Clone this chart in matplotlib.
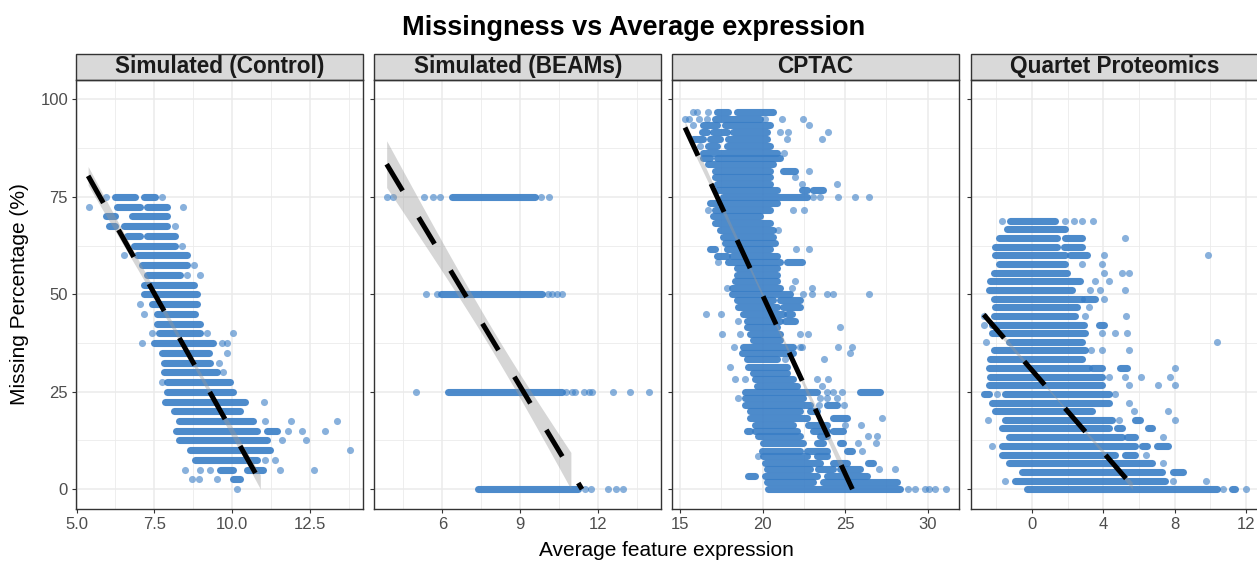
import numpy as np
import matplotlib
matplotlib.use("Agg")
import matplotlib.pyplot as plt
from matplotlib.patches import Rectangle

plt.rcParams['font.family'] = ['Liberation Sans', 'DejaVu Sans']

# ---------------------------------------------------------------------------
# Data: missing percentage (y) against average feature expression (x).
# Dense stretches of overlapping features are stored as runs (y, x_start, x_end);
# isolated features are stored per missingness level as (y, [x, ...]).
# ---------------------------------------------------------------------------
panel_titles = ["Simulated (Control)", "Simulated (BEAMs)", "CPTAC", "Quartet Proteomics"]

ctrl_runs = [
    (75, 6.25, 6.89), (75, 7.16, 7.53),
    (72.5, 6.30, 7.05), (72.5, 7.26, 7.91),
    (70, 5.93, 6.25), (70, 6.78, 7.91),
    (67.5, 6.04, 6.25), (67.5, 6.52, 7.91),
    (65, 6.62, 7.05), (65, 7.26, 8.17),
    (62.5, 6.84, 8.17),
    (60, 6.94, 8.55),
    (57.5, 7.10, 8.55),
    (55, 7.26, 8.33),
    (52.5, 7.16, 8.76),
    (50, 7.16, 8.87),
    (47.5, 7.43, 8.87),
    (45, 7.59, 8.81),
    (42.5, 7.59, 8.97),
    (40, 7.64, 8.97),
    (37.5, 7.48, 9.40),
    (35, 7.75, 9.27),
    (32.5, 7.80, 9.29),
    (30, 7.80, 9.51),
    (27.5, 7.91, 9.94),
    (25, 7.91, 10.04),
    (22.5, 7.85, 10.42),
    (20, 8.12, 10.26),
    (17.5, 8.28, 10.68),
    (15, 8.21, 10.79), (15, 11.11, 11.43),
    (12.5, 8.28, 11.11),
    (10, 8.65, 11.22),
    (7.5, 8.81, 10.79),
    (5, 9.62, 10.04), (5, 10.47, 11.00),
    (2.5, 10.04, 10.26),
]
ctrl_points = [
    (75, [5.93, 7.75]),
    (72.5, [5.40, 8.42]),
    (67.5, [8.17]),
    (62.5, [8.39]),
    (60, [6.52]),
    (57.5, [8.76]),
    (55, [8.55, 8.97]),
    (47.5, [7.03]),
    (45, [7.18]),
    (40, [7.43, 9.19, 10.04]),
    (37.5, [7.10, 9.67, 9.83]),
    (35, [9.83]),
    (32.5, [9.59]),
    (30, [9.72]),
    (27.5, [7.75]),
    (22.5, [11.04]),
    (17.5, [11.06, 11.91, 13.38]),
    (15, [11.81, 12.26, 12.98]),
    (12.5, [11.59, 12.39]),
    (10, [13.78]),
    (7.5, [11.06, 11.38]),
    (5, [8.49, 8.97, 9.29, 11.54, 12.64]),
    (2.5, [8.71, 8.95, 9.51]),
    (0, [10.15]),
]

beams_runs = [
    (75, 6.36, 9.56),
    (50, 5.95, 9.82),
    (25, 6.23, 10.59),
    (0, 7.36, 11.23),
]
beams_points = [
    (75, [3.86, 4.12, 5.31, 5.65, 5.91, 9.80, 10.12]),
    (50, [5.37, 5.81, 10.05, 10.23, 10.40, 10.59]),
    (25, [4.98, 10.75, 10.98, 11.10, 11.46, 11.64, 11.77, 12.55, 13.22, 13.95]),
    (0, [11.49, 11.72, 12.38, 12.66, 12.96]),
]

cptac_runs = [
    (96.8, 17.22, 17.93), (96.8, 18.43, 20.65),
    (95.0, 17.12, 19.84),
    (93.4, 16.41, 17.22), (93.4, 17.72, 20.45),
    (91.7, 16.31, 16.61), (91.7, 17.02, 17.82), (91.7, 18.23, 20.25),
    (89.8, 15.81, 16.41), (89.8, 16.82, 17.42), (89.8, 17.93, 20.25),
    (88.0, 16.72, 17.22), (88.0, 17.82, 20.45),
    (86.2, 16.41, 20.85),
    (84.9, 16.41, 16.82), (84.9, 17.22, 21.05),
    (83.4, 16.72, 20.65),
    (81.6, 17.12, 20.45), (81.6, 21.26, 21.96),
    (80.0, 17.12, 20.45),
    (78.3, 17.22, 20.45),
    (76.8, 17.22, 20.85), (76.8, 22.36, 22.67), (76.8, 23.07, 23.68),
    (75.1, 17.62, 22.67),
    (73.4, 16.82, 17.22), (73.4, 17.42, 20.85),
    (71.7, 17.12, 20.45),
    (70.2, 17.02, 19.84),
    (68.3, 17.12, 20.45),
    (66.5, 17.42, 20.65),
    (64.8, 17.62, 20.65),
    (63.3, 17.72, 20.75),
    (61.6, 16.82, 17.12), (61.6, 17.82, 20.45),
    (59.9, 17.22, 17.82), (59.9, 18.13, 20.85),
    (58.3, 17.93, 21.05), (58.3, 21.46, 22.36),
    (56.7, 18.43, 20.85),
    (55.0, 18.43, 20.85),
    (53.3, 18.33, 20.85),
    (51.6, 18.13, 21.05),
    (50.1, 18.13, 21.66),
    (48.5, 18.43, 20.65), (48.5, 21.05, 22.26),
    (46.7, 18.53, 20.85), (46.7, 21.26, 22.26),
    (45.0, 18.83, 21.26), (45.0, 21.46, 21.76),
    (43.1, 19.04, 21.05), (43.1, 21.36, 21.96),
    (41.5, 19.04, 20.85),
    (39.9, 19.24, 21.05),
    (38.4, 19.44, 21.05),
    (36.5, 18.83, 21.86),
    (35.0, 18.73, 21.86),
    (33.3, 19.04, 20.85),
    (31.4, 19.14, 21.46),
    (29.9, 19.44, 21.46),
    (28.4, 19.54, 21.86),
    (26.6, 19.64, 22.06),
    (24.9, 18.93, 23.27), (24.9, 25.90, 27.11),
    (23.5, 18.93, 22.47),
    (21.6, 18.93, 22.87), (21.6, 23.88, 24.48),
    (20.0, 19.24, 22.26), (20.0, 22.87, 23.27),
    (18.2, 19.24, 22.67), (18.2, 24.28, 25.09),
    (16.6, 19.54, 21.86), (16.6, 22.77, 23.88),
    (14.9, 19.04, 19.24), (14.9, 19.54, 22.06), (14.9, 23.07, 23.88), (14.9, 24.28, 24.89),
    (13.6, 19.74, 22.26), (13.6, 23.47, 23.88),
    (11.9, 20.04, 22.47), (11.9, 23.27, 23.68), (11.9, 24.69, 24.89),
    (9.8, 19.94, 22.26), (9.8, 22.67, 23.88), (9.8, 25.09, 25.39),
    (8.4, 20.04, 22.67), (8.4, 23.27, 23.88),
    (6.8, 20.15, 23.47), (6.8, 24.28, 25.09), (6.8, 26.40, 26.70),
    (5.1, 20.25, 22.87), (5.1, 23.37, 24.28), (5.1, 24.69, 25.90),
    (3.3, 19.14, 19.54), (3.3, 20.15, 23.27), (3.3, 23.88, 26.30),
    (1.9, 20.25, 23.07), (1.9, 23.68, 28.12),
    (0, 20.35, 28.32),
]
cptac_points = [
    (96.8, [15.81, 16.05, 16.72]),
    (95.0, [15.30, 15.56, 16.17, 16.61, 20.15, 21.15, 22.43]),
    (93.4, [15.81, 22.83]),
    (91.7, [21.05, 21.56, 23.98]),
    (89.8, [21.46, 23.62]),
    (88.0, [16.21]),
    (86.2, [21.30]),
    (81.6, [22.81]),
    (80.0, [21.96]),
    (78.3, [22.36, 24.48]),
    (75.1, [23.07, 23.47, 24.58, 25.59, 26.46]),
    (71.7, [16.72, 21.86, 22.51]),
    (66.5, [20.95]),
    (61.6, [22.02, 22.83]),
    (58.3, [17.32]),
    (53.3, [21.96]),
    (51.6, [17.82, 21.76, 22.97]),
    (50.1, [22.47, 22.97, 23.88, 24.28, 26.46]),
    (45.0, [16.57, 17.48]),
    (43.1, [18.53]),
    (41.5, [24.69]),
    (39.9, [17.52, 18.63, 22.26, 22.77]),
    (36.5, [18.27, 22.26, 22.36, 24.58, 25.39]),
    (35.0, [25.29]),
    (33.3, [21.36, 23.74]),
    (31.4, [18.03]),
    (28.4, [18.33, 18.93, 23.27, 23.98]),
    (26.6, [23.58]),
    (24.9, [23.88, 24.28, 24.79]),
    (23.5, [18.49, 23.47, 23.88, 24.48]),
    (21.6, [23.43, 24.93]),
    (18.2, [27.21]),
    (16.6, [24.99, 25.94]),
    (13.6, [26.40, 26.95]),
    (11.9, [25.80, 26.90]),
    (9.8, [26.00]),
    (8.4, [19.74]),
    (5.1, [27.05, 28.01]),
    (0, [28.82, 29.23, 29.83, 30.09, 30.44, 31.14]),
]

quartet_runs = [
    (68.9, -1.21, 1.31),
    (66.7, -1.40, 1.87),
    (64.4, -1.87, 1.40), (64.4, 1.87, 2.80),
    (62.2, -2.05, 1.40), (62.2, 1.77, 2.80),
    (60.0, -2.05, 1.87), (60.0, 2.15, 3.08),
    (57.8, -1.87, 1.87),
    (55.6, -2.15, 1.96),
    (53.3, -2.33, 2.71),
    (51.1, -2.43, 2.24),
    (48.9, -2.15, 2.80), (48.9, 2.90, 3.55),
    (46.7, -2.05, 2.52),
    (44.4, -2.15, 2.43),
    (42.2, -2.24, 2.89), (42.2, 3.73, 4.01),
    (40.0, -2.24, 2.99),
    (37.8, -1.31, 2.80),
    (35.6, -2.15, 2.99),
    (33.3, -2.33, 2.80),
    (31.1, -2.43, 3.17), (31.1, 3.36, 3.92), (31.1, 4.95, 5.32),
    (28.9, -2.33, 3.92),
    (26.7, -2.43, 3.92),
    (24.4, -2.71, -2.43), (24.4, -1.49, 4.29),
    (22.2, -2.24, 4.29),
    (20.0, -2.05, 3.36),
    (17.8, -1.49, 4.48), (17.8, 5.79, 6.07),
    (15.6, -1.68, 4.29), (15.6, 4.76, 5.04), (15.6, 6.53, 6.72),
    (13.3, -1.31, 5.04), (13.3, 5.32, 5.79),
    (11.1, -1.68, 5.79), (11.1, 6.16, 6.44), (11.1, 7.00, 7.65),
    (8.9, -1.68, 4.67), (8.9, 5.23, 5.79),
    (6.7, -1.31, 6.72),
    (4.4, -0.56, 7.28), (4.4, 7.93, 8.49),
    (2.2, -0.93, 7.47),
    (0.0, -0.28, 10.36), (0.0, 11.20, 11.38),
]
quartet_points = [
    (68.9, [-1.68, 1.87, 2.33, 2.80, 3.40]),
    (64.4, [5.23]),
    (60.0, [4.01, 9.84]),
    (57.8, [2.80, 3.92]),
    (55.6, [4.05, 5.04, 5.41]),
    (53.3, [3.55, 4.33]),
    (51.1, [3.27, 3.83, 5.23]),
    (48.9, [4.01]),
    (46.7, [3.17]),
    (44.4, [-2.71, 2.99, 5.26]),
    (42.2, [-2.71]),
    (40.0, [3.92, 4.63, 5.32]),
    (37.8, [-2.58, 10.36]),
    (35.6, [3.32, 3.92, 5.41]),
    (31.1, [7.99]),
    (28.9, [4.33, 5.23, 6.12, 7.75]),
    (26.7, [5.41, 7.06, 7.99]),
    (24.4, [-1.96, 4.67]),
    (22.2, [5.41]),
    (20.0, [5.69, 7.65]),
    (17.8, [-2.46, 4.85, 7.99]),
    (13.3, [7.32]),
    (11.1, [-2.24]),
    (8.9, [6.38]),
    (6.7, [7.32]),
    (2.2, [-1.53, 7.93, 9.74]),
    (0.0, [10.73, 11.98]),
]

# Linear fits: (x_start, y_start), (x_end, y_end) and confidence band shape
# (x of narrowest point, half-width there, half-width at x_start).
fit_lines = [
    ((5.37, 80.4), (11.04, 0.0), (8.6, 0.8, 2.4)),
    ((3.86, 83.4), (11.37, 0.0), (8.0, 2.8, 6.0)),
    ((15.30, 92.8), (25.44, 0.0), (20.3, 0.5, 1.6)),
    ((-2.71, 44.8), (5.79, 0.0), (1.5, 0.25, 0.9)),
]

x_limits = [(4.98, 14.20), (3.385, 14.42), (14.53, 31.9), (-3.44, 12.71)]
x_major = [[5, 7.5, 10, 12.5], [6, 9, 12], [15, 20, 25, 30], [0, 4, 8, 12]]
x_major_labels = [["5.0", "7.5", "10.0", "12.5"], ["6", "9", "12"],
                  ["15", "20", "25", "30"], ["0", "4", "8", "12"]]
x_minor = [[6.25, 8.75, 11.25, 13.75], [4.5, 7.5, 10.5, 13.5],
           [17.5, 22.5, 27.5], [-2, 2, 6, 10]]
y_major = [0, 25, 50, 75, 100]
y_minor = [12.5, 37.5, 62.5, 87.5]

panels = [
    (ctrl_runs, ctrl_points),
    (beams_runs, beams_points),
    (cptac_runs, cptac_points),
    (quartet_runs, quartet_points),
]

# ---------------------------------------------------------------------------
W, H = 1257, 563
fig = plt.figure(figsize=(W / 100, H / 100), dpi=100)

POINT = '#3A7EC6'
FRAME = '#333333'
GRID = '#EBEBEB'
TICKTXT = '#4D4D4D'
MARKER_D = 5.1            # marker diameter in points
panel_px = [(76, 362.7), (374.3, 661.3), (672.3, 959.0), (970.7, 1258.7)]
top_px, bottom_px = 80.0, 508.7
strip_px = 26.0


def fig_box(x0, x1):
    return [x0 / W, 1 - bottom_px / H, (x1 - x0) / W, (bottom_px - top_px) / H]


for i, ((runs, pts), (xl, xr)) in enumerate(zip(panels, panel_px)):
    ax = fig.add_axes(fig_box(xl, xr))
    ax.set_xlim(*x_limits[i])
    ax.set_ylim(-5, 105)

    # grid
    for v in x_minor[i]:
        ax.axvline(v, color=GRID, lw=0.6, zorder=0)
    for v in y_minor:
        ax.axhline(v, color=GRID, lw=0.6, zorder=0)
    for v in x_major[i]:
        ax.axvline(v, color=GRID, lw=1.1, zorder=0)
    for v in y_major:
        ax.axhline(v, color=GRID, lw=1.1, zorder=0)

    # features
    for y, a, b in runs:
        ax.plot([a, b], [y, y], color=POINT, lw=MARKER_D, alpha=0.9,
                solid_capstyle='round', zorder=2)
    px = [x for y, xs in pts for x in xs]
    py = [y for y, xs in pts for x in xs]
    ax.scatter(px, py, s=MARKER_D ** 2, color=POINT, alpha=0.6,
               linewidths=0, zorder=2)

    # linear fit with confidence band
    (x0, y0), (x1, y1), (xc, hw_c, hw_0) = fit_lines[i]
    xs = np.linspace(x0, x1, 300)
    fit = y0 + (y1 - y0) * (xs - x0) / (x1 - x0)
    k2 = (hw_0 ** 2 - hw_c ** 2) / (x0 - xc) ** 2
    hw = np.sqrt(hw_c ** 2 + k2 * (xs - xc) ** 2)
    lo, hi = fit - hw, fit + hw
    keep = (lo >= 0) & (hi <= 100)
    ax.fill_between(xs[keep], lo[keep], hi[keep], color='#999999',
                    alpha=0.4, lw=0, zorder=3)
    ax.plot([x0, x1], [y0, y1], color='black', lw=3.6,
            linestyle=(0, (6.2, 6.2)), solid_capstyle='butt',
            dash_capstyle='butt', zorder=4)

    # axes styling
    ax.set_xticks(x_major[i])
    ax.set_xticklabels(x_major_labels[i])
    ax.set_yticks(y_major)
    if i == 0:
        ax.set_yticklabels([str(v) for v in y_major])
    else:
        ax.set_yticklabels([])
        ax.tick_params(axis='y', length=0)
    ax.tick_params(colors=FRAME, labelcolor=TICKTXT, labelsize=12,
                   length=3.2, width=0.8, pad=2.5)
    for s in ax.spines.values():
        s.set_color(FRAME)
        s.set_linewidth(1.0)
        s.set_zorder(5)

    # facet strip
    sh = strip_px / (bottom_px - top_px)
    ax.add_patch(Rectangle((0, 1), 1, sh, transform=ax.transAxes,
                           facecolor='#D9D9D9', edgecolor=FRAME, lw=1.0,
                           clip_on=False, zorder=5))
    ax.text(0.5, 1 + sh / 2, panel_titles[i], transform=ax.transAxes,
            ha='center', va='center', fontsize=16.3, fontweight='bold',
            color='#1A1A1A', zorder=6)

fig.text(634 / W, 1 - 28 / H, "Missingness vs Average expression",
         ha='center', va='center', fontsize=19.5, fontweight='bold')
fig.text(666.7 / W, 1 - 551 / H, "Average feature expression",
         ha='center', va='center', fontsize=15)
fig.text(20 / W, 1 - 294 / H, "Missing Percentage (%)", rotation=90,
         ha='center', va='center', fontsize=15)

fig.savefig("out.png", dpi=100)
